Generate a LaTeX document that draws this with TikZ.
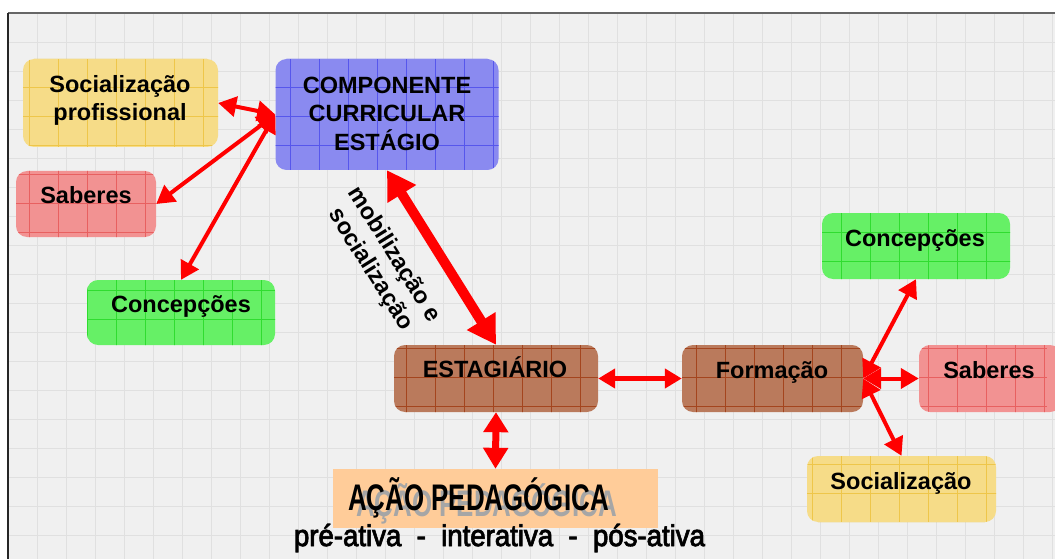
\documentclass[tikz,border=0pt]{standalone}
\usepackage{fontspec}
\setmainfont{Liberation Sans}
\newfontfamily\fasesfont[FakeBold=1.6]{Liberation Sans}
\newfontfamily\fasesout[FakeBold=3.2]{Liberation Sans}
\usepackage{graphicx}
\usetikzlibrary{arrows.meta}
\definecolor{bgc}{HTML}{F0F0F0}
\definecolor{gridc}{HTML}{E0E0E0}
\definecolor{yel}{HTML}{F6DC88}
\definecolor{yelL}{HTML}{EEC64A}
\definecolor{blu}{HTML}{8A8AF0}
\definecolor{bluL}{HTML}{5656EC}
\definecolor{pnk}{HTML}{F29292}
\definecolor{pnkL}{HTML}{E86060}
\definecolor{grn}{HTML}{66F066}
\definecolor{grnL}{HTML}{30DC30}
\definecolor{brn}{HTML}{BA7A5C}
\definecolor{brnL}{HTML}{A4451E}
\definecolor{peach}{HTML}{FFCC99}
\definecolor{arrred}{HTML}{FF0000}
\newcommand\boxgrid[1]{\pgftransformreset
  \draw[#1, line width=0.9pt, step=29pt, shift={(8,-13)}] (0,0) grid (1047,-546);}
\tikzset{
  box/.style={rounded corners=11pt, inner sep=0pt},
  boxc/.style n args={2}{fill=#1, path picture={\boxgrid{#2}}},
  txt/.style={inner sep=0pt, anchor=base, font=\bfseries\fontsize{23.5}{28}\selectfont},
  arr/.style={draw=arrred, line width=4pt,
    {Triangle[length=18pt,width=20pt]}-{Triangle[length=18pt,width=20pt]}},
  bigarr/.style={draw=arrred, line width=10pt,
    {Triangle[length=28pt,width=32pt]}-{Triangle[length=28pt,width=32pt]}},
  midarr/.style={draw=arrred, line width=5pt,
    {Triangle[length=17pt,width=19pt]}-{Triangle[length=17pt,width=19pt]}},
  vertarr/.style={draw=arrred, line width=7pt,
    {Triangle[length=20pt,width=24pt]}-{Triangle[length=21pt,width=24pt]}},
  lbl/.style={inner sep=0pt, align=center, font=\bfseries\fontsize{23.5}{28}\selectfont},
}
\begin{document}
\begin{tikzpicture}[x=1pt,y=1pt]
\useasboundingbox (0,0) rectangle (1055,-559);
\fill[white] (0,0) rectangle (1055,-559);
\fill[bgc] (8,-13) rectangle (1055,-559);
\draw[gridc, line width=0.8pt, step=29pt, shift={(8,-13)}] (0,0) grid (1047,-546);
\draw[black!60,line width=2pt] (8,-13) -- (1055,-13);
\draw[black!85,line width=2pt] (8,-13) -- (8,-559);

% boxes
\node[box, boxc={yel}{yelL}, minimum width=195pt, minimum height=88pt] (socprof) at (120.5,-103) {};
\node[box, boxc={blu}{bluL}, minimum width=223pt, minimum height=111pt] (cce) at (387,-114.5) {};
\node[box, boxc={pnk}{pnkL}, minimum width=140pt, minimum height=66pt] (sabL) at (86,-204) {};
\node[box, boxc={grn}{grnL}, minimum width=188pt, minimum height=65pt] (concL) at (181,-312.5) {};
\node[box, boxc={brn}{brnL}, minimum width=204pt, minimum height=67pt] (estag) at (496,-378.5) {};
\node[box, boxc={brn}{brnL}, minimum width=181pt, minimum height=67pt] (form) at (772.5,-378.5) {};
\node[box, boxc={grn}{grnL}, minimum width=188pt, minimum height=66pt] (concR) at (916,-246) {};
\node[box, boxc={pnk}{pnkL}, minimum width=142pt, minimum height=67pt] (sabR) at (990,-378.5) {};
\node[box, boxc={yel}{yelL}, minimum width=189pt, minimum height=66pt] (socR) at (901.5,-489) {};

% box texts
\node[txt] (socprofA) at (120,-93) {Socialização};
\node[txt] (socprofB) at (120,-121) {profissional};
\node[txt] (cceA) at (387,-94) {COMPONENTE};
\node[txt] (cceB) at (387,-122) {CURRICULAR};
\node[txt] (cceC) at (387,-150) {ESTÁGIO};
\node[txt] (sabLt) at (86,-203) {Saberes};
\node[txt] (concLt) at (181,-312) {Concepções};
\node[txt] (estagt) at (495,-377) {ESTAGIÁRIO};
\node[txt] (formt) at (772,-378) {Formação};
\node[txt] (concRt) at (915,-246) {Concepções};
\node[txt] (sabRt) at (989,-378) {Saberes};
\node[txt] (socRt) at (901,-489) {Socialização};

% acao pedagogica
\node[fill=peach, inner sep=0pt, minimum width=325pt, minimum height=59pt] (acao) at (495.5,-498.5) {};
\node[inner sep=0pt, anchor=base, text=black!35, font=\bfseries\fontsize{37}{40}\selectfont] (acaoshadow) at (486.5,-516) {\scalebox{0.7}[1]{AÇÃO PEDAGÓGICA}};
\node[inner sep=0pt, anchor=base, font=\bfseries\fontsize{37}{40}\selectfont] (acaotext) at (478.5,-510) {\scalebox{0.7}[1]{AÇÃO PEDAGÓGICA}};
\node[inner sep=0pt, anchor=base, text=black!65, font=\fasesout\fontsize{30}{34}\selectfont] (fasesshadow) at (499.5,-546) {\scalebox{0.92}[1]{pré-ativa\ \ -\ \ interativa\ \ -\ \ pós-ativa}};
\node[inner sep=0pt, anchor=base, font=\fasesfont\fontsize{30}{34}\selectfont] (fases) at (499.5,-546) {\scalebox{0.92}[1]{pré-ativa\ \ -\ \ interativa\ \ -\ \ pós-ativa}};

% label
\node[lbl, rotate=-58] (mob) at (382,-262) {mobilização e\\socialização};

% connectors
\draw[arr] (socprof.east) -- (cce.west);
\draw[arr] (cce.west) -- (sabL.east);
\draw[arr] (cce.west) -- (concL.north);
\draw[bigarr] (cce.south) -- (estag.north);
\draw[midarr] (estag.east) -- (form.west);
\draw[vertarr] (estag.south) -- (acao.north);
\draw[arr] (form.east) -- (concR.south);
\draw[arr] (form.east) -- (sabR.west);
\draw[arr] (form.east) -- (socR.north);
\end{tikzpicture}
\end{document}
